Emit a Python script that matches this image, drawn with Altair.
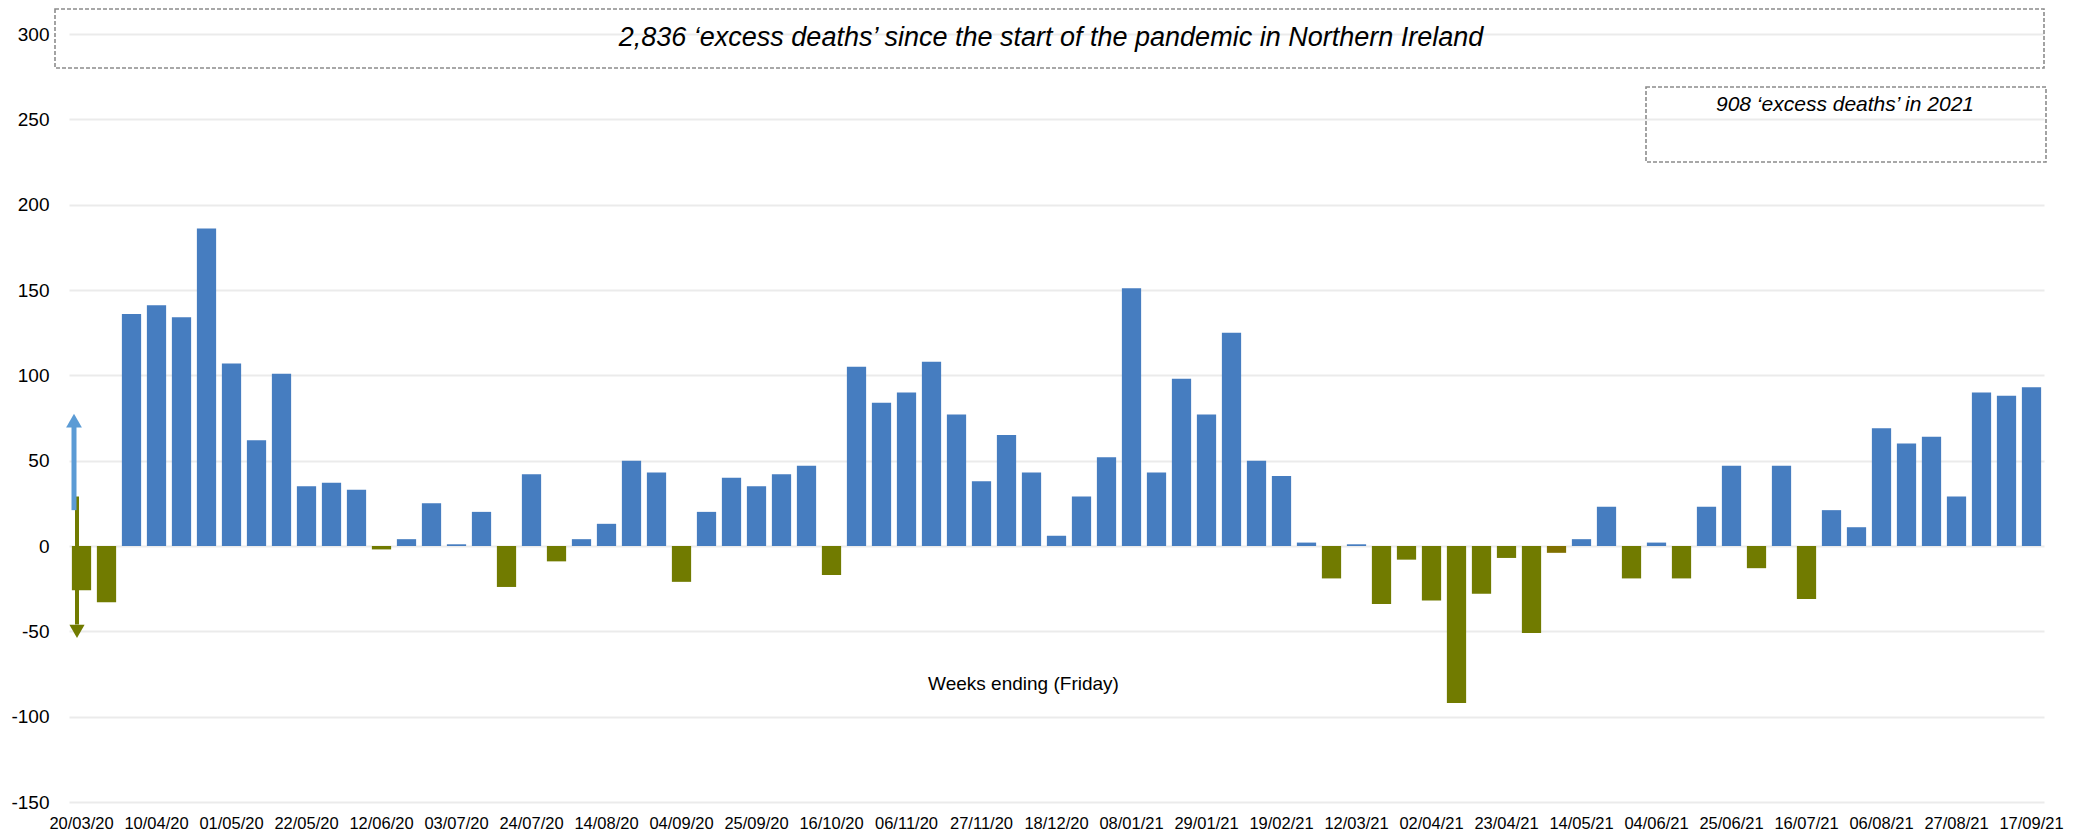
import altair as alt
import pandas as pd

# ---- data -------------------------------------------------------------
weeks = list(pd.date_range("2020-03-20", periods=79, freq="7D").strftime("%d/%m/%y"))

excess = [
    -26, -33, 136, 141, 134, 186, 107, 62, 101, 35,
    37, 33, -2, 4, 25, 1, 20, -24, 42, -9,
    4, 13, 50, 43, -21, 20, 40, 35, 42, 47,
    -17, 105, 84, 90, 108, 77, 38, 65, 43, 6,
    29, 52, 151, 43, 98, 77, 125, 50, 41, 2,
    -19, 1, -34, -8, -32, -92, -28, -7, -51, -4,
    4, 23, -19, 2, -19, 23, 47, -13, 47, -31,
    21, 11, 69, 60, 64, 29, 90, 88, 93,
]

tick_labels = [
    "20/03/20", "10/04/20", "01/05/20", "22/05/20", "12/06/20", "03/07/20",
    "24/07/20", "14/08/20", "04/09/20", "25/09/20", "16/10/20", "06/11/20",
    "27/11/20", "18/12/20", "08/01/21", "29/01/21", "19/02/21", "12/03/21",
    "02/04/21", "23/04/21", "14/05/21", "04/06/21", "25/06/21", "16/07/21",
    "06/08/21", "27/08/21", "17/09/21",
]
y_ticks = [-150, -100, -50, 0, 50, 100, 150, 200, 250, 300]

odd_shade_weeks = ["07/05/21"]

headline = ["2,836 \u2018excess deaths\u2019 since the start of the pandemic in Northern Ireland"]
sub_headline = ["908 \u2018excess deaths\u2019 in 2021"]

# arrow annotation (y in data units)
arrow_up = {"y": [21], "y2": [72], "head": [73.5]}
arrow_down = {"y": [29], "y2": [-46], "head": [-50]}

# ---- styling -----------------------------------------------------------
BLUE = "#467DC0"
OLIVE = "#717B00"
BROWN = "#807000"
ARROW_BLUE = "#5B9BD5"
FONT = "Liberation Sans"
W, H = 1975, 768

df = pd.DataFrame({"week": weeks, "excess": excess})
df["tone"] = ["above" if v >= 0 else "below" for v in excess]
df.loc[df["week"].isin(odd_shade_weeks), "tone"] = "odd"

y_scale = alt.Scale(domain=[-150, 300], nice=False, zero=False)

bars = alt.Chart(df).mark_bar().encode(
    x=alt.X(
        "week:N",
        sort=weeks,
        scale=alt.Scale(paddingInner=0.23, paddingOuter=0.115),
        axis=alt.Axis(
            values=tick_labels,
            labelAngle=0,
            labelFontSize=16.5,
            labelFont=FONT,
            labelColor="#000000",
            labelPadding=13,
            ticks=False,
            tickSize=0,
            domain=False,
            grid=False,
            title="Weeks ending (Friday)",
            titleFont=FONT,
            titleFontSize=19,
            titleFontWeight="normal",
            titleColor="#000000",
            titleX=954,
            titleY=-119,
            titleAlign="center",
            titleBaseline="middle",
        ),
    ),
    y=alt.Y(
        "excess:Q",
        scale=y_scale,
        axis=alt.Axis(
            values=y_ticks,
            labelExpr="datum.value < 0 ? '-' + abs(datum.value) : '' + datum.value",
            labelFontSize=19,
            labelFont=FONT,
            labelColor="#000000",
            labelPadding=20,
            ticks=False,
            tickSize=0,
            domain=False,
            grid=True,
            gridColor="#EBEBEB",
            gridWidth=2,
            title=None,
        ),
    ),
    color=alt.Color(
        "tone:N",
        scale=alt.Scale(domain=["above", "below", "odd"], range=[BLUE, OLIVE, BROWN]),
        legend=None,
    ),
)

down_df = pd.DataFrame(arrow_down)
up_df = pd.DataFrame(arrow_up)

down_shaft = alt.Chart(down_df).mark_rule(color=OLIVE, strokeWidth=4).encode(
    x=alt.value(8), y=alt.Y("y:Q", scale=y_scale), y2="y2:Q"
)
down_head = alt.Chart(down_df).mark_point(
    shape="triangle-down", filled=True, color=OLIVE, size=230, opacity=1
).encode(x=alt.value(8), y=alt.Y("head:Q", scale=y_scale))

up_shaft = alt.Chart(up_df).mark_rule(color=ARROW_BLUE, strokeWidth=5).encode(
    x=alt.value(5), y=alt.Y("y:Q", scale=y_scale), y2="y2:Q"
)
up_head = alt.Chart(up_df).mark_point(
    shape="triangle-up", filled=True, color=ARROW_BLUE, size=250, opacity=1
).encode(x=alt.value(5), y=alt.Y("head:Q", scale=y_scale))

box_style = dict(filled=False, stroke="#8C8C8C", strokeWidth=1.6, strokeDash=[4, 2])

big_box = alt.Chart(pd.DataFrame({"t": headline})).mark_rect(**box_style).encode(
    x=alt.value(-14), x2=alt.value(1975), y=alt.value(-25), y2=alt.value(34)
)
big_text = alt.Chart(pd.DataFrame({"t": headline})).mark_text(
    font=FONT, fontSize=27, fontStyle="italic", align="center", baseline="middle", color="#000000"
).encode(x=alt.value(982), y=alt.value(4), text="t:N")

small_box = alt.Chart(pd.DataFrame({"t": sub_headline})).mark_rect(**box_style).encode(
    x=alt.value(1577), x2=alt.value(1977), y=alt.value(53), y2=alt.value(128)
)
small_text = alt.Chart(pd.DataFrame({"t": sub_headline})).mark_text(
    font=FONT, fontSize=21, fontStyle="italic", align="center", baseline="middle", color="#000000"
).encode(x=alt.value(1776), y=alt.value(71), text="t:N")

chart = (
    alt.layer(bars, down_shaft, down_head, up_shaft, up_head, big_box, big_text, small_box, small_text)
    .properties(
        width=W,
        height=H,
        padding={"left": 61, "top": 26, "right": 30, "bottom": 32},
        autosize=alt.AutoSizeParams(type="none"),
        background="#FFFFFF",
    )
    .configure_view(stroke=None)
)

chart.save("out.html", embed_options={"renderer": "svg", "actions": False})
